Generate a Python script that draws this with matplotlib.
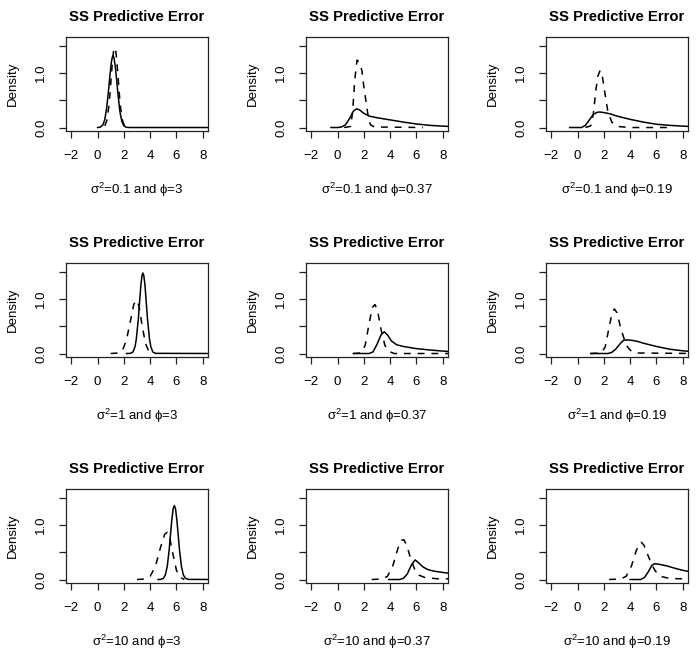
import matplotlib
matplotlib.use("Agg")
import matplotlib.pyplot as plt

plt.rcParams['font.family'] = ['Liberation Sans', 'DejaVu Sans']
plt.rcParams['mathtext.fontset'] = 'custom'
plt.rcParams['mathtext.rm'] = 'Liberation Sans'
plt.rcParams['mathtext.it'] = 'Liberation Sans'

# x labels of the 9 panels (row by row)
labels = [r'$\mathregular{\sigma^2}$=0.1 and $\phi$=3',
          r'$\mathregular{\sigma^2}$=0.1 and $\phi$=0.37',
          r'$\mathregular{\sigma^2}$=0.1 and $\phi$=0.19',
          r'$\mathregular{\sigma^2}$=1 and $\phi$=3',
          r'$\mathregular{\sigma^2}$=1 and $\phi$=0.37',
          r'$\mathregular{\sigma^2}$=1 and $\phi$=0.19',
          r'$\mathregular{\sigma^2}$=10 and $\phi$=3',
          r'$\mathregular{\sigma^2}$=10 and $\phi$=0.37',
          r'$\mathregular{\sigma^2}$=10 and $\phi$=0.19']

# solid curves (x, density)
solid_x = [
    [0.0, 0.2, 0.4, 0.55, 0.7, 0.85, 0.95, 1.05, 1.12, 1.18, 1.25, 1.35, 1.45, 1.55, 1.7, 1.85, 2.0, 2.2, 2.5, 9],
    [-0.5, 0, 0.3, 0.6, 0.9, 1.2, 1.45, 1.7, 2.0, 2.4, 3.0, 4.0, 5.0, 6.0, 7.0, 8.0, 9],
    [-0.6, 0.3, 0.6, 0.9, 1.2, 1.5, 1.7, 2.0, 2.5, 3.0, 4.0, 5.0, 6.0, 7.0, 8.0, 9],
    [2.2, 2.5, 2.7, 2.85, 2.95, 3.1, 3.2, 3.3, 3.38, 3.45, 3.52, 3.6, 3.7, 3.8, 3.95, 4.05, 4.2, 4.4, 9],
    [1.2, 2.4, 2.7, 3.0, 3.3, 3.55, 3.8, 4.1, 4.5, 5.0, 6.0, 7.0, 8.0, 9],
    [1.0, 2.3, 2.6, 2.9, 3.2, 3.5, 3.8, 4.2, 4.6, 5.0, 6.0, 7.0, 8.0, 9],
    [4.6, 4.8, 5.0, 5.15, 5.3, 5.45, 5.55, 5.65, 5.75, 5.84, 5.93, 6.03, 6.13, 6.23, 6.38, 6.53, 6.7, 6.9, 9],
    [3.9, 4.7, 5.0, 5.3, 5.6, 5.9, 6.2, 6.5, 6.9, 7.3, 8.0, 9],
    [4.0, 4.8, 5.1, 5.4, 5.65, 5.85, 6.2, 6.8, 7.5, 8.0, 9],
]
solid_y = [
    [0, 0.006, 0.045, 0.146, 0.37, 0.72, 0.98, 1.2, 1.29, 1.32, 1.28, 1.12, 0.88, 0.62, 0.29, 0.11, 0.03, 0.003, 0, 0],
    [0, 0, 0.01, 0.05, 0.16, 0.3, 0.345, 0.32, 0.26, 0.21, 0.18, 0.14, 0.1, 0.065, 0.04, 0.025, 0.015],
    [0, 0, 0.04, 0.14, 0.24, 0.28, 0.285, 0.275, 0.25, 0.21, 0.15, 0.1, 0.06, 0.04, 0.025, 0.015],
    [0, 0.003, 0.03, 0.126, 0.27, 0.63, 0.96, 1.27, 1.43, 1.48, 1.43, 1.27, 0.96, 0.63, 0.27, 0.126, 0.03, 0.003, 0],
    [0, 0, 0.03, 0.17, 0.34, 0.4, 0.34, 0.23, 0.16, 0.13, 0.09, 0.065, 0.045, 0.03],
    [0, 0, 0.02, 0.08, 0.17, 0.245, 0.25, 0.24, 0.22, 0.19, 0.13, 0.08, 0.05, 0.03],
    [0, 0.002, 0.02, 0.08, 0.24, 0.55, 0.83, 1.1, 1.3, 1.36, 1.3, 1.1, 0.83, 0.55, 0.24, 0.08, 0.02, 0.002, 0],
    [0, 0, 0.02, 0.1, 0.26, 0.36, 0.3, 0.23, 0.18, 0.155, 0.13, 0.1],
    [0, 0, 0.04, 0.15, 0.26, 0.29, 0.28, 0.25, 0.2, 0.17, 0.12],
]

# dashed curves
dash_x = [
    [0.55, 0.7, 0.85, 0.95, 1.05, 1.15, 1.22, 1.3, 1.38, 1.45, 1.55, 1.65, 1.75, 1.9, 2.05],
    [0.5, 1.0, 1.15, 1.3, 1.48, 1.65, 1.85, 2.0, 2.15, 2.3, 2.5, 2.8, 6.5],
    [0.6, 1.0, 1.2, 1.4, 1.55, 1.72, 1.9, 2.1, 2.3, 2.6, 3.0, 4.0, 7.0],
    [1.0, 1.6, 1.9, 2.2, 2.5, 2.75, 2.95, 3.15, 3.4, 3.65, 3.9, 4.3],
    [1.2, 1.8, 2.1, 2.4, 2.65, 2.85, 3.05, 3.3, 3.6, 3.9, 4.3, 9],
    [1.0, 1.8, 2.1, 2.4, 2.6, 2.8, 3.0, 3.25, 3.5, 3.8, 4.1, 4.5, 9],
    [3.0, 3.6, 4.0, 4.4, 4.8, 5.1, 5.3, 5.5, 5.75, 6.0, 6.3, 6.6],
    [2.6, 3.4, 3.8, 4.2, 4.6, 4.85, 5.05, 5.3, 5.6, 5.9, 6.2, 6.6, 7.5, 9],
    [2.4, 3.3, 3.7, 4.1, 4.45, 4.7, 4.85, 5.05, 5.3, 5.6, 5.9, 6.3, 6.8, 7.5, 9],
]
dash_y = [
    [0.03, 0.125, 0.37, 0.63, 0.96, 1.26, 1.41, 1.47, 1.41, 1.26, 0.96, 0.63, 0.37, 0.125, 0.03],
    [0, 0.02, 0.3, 0.85, 1.24, 1.2, 1.05, 0.75, 0.5, 0.25, 0.05, 0.01, 0],
    [0, 0.03, 0.25, 0.7, 0.95, 1.05, 0.92, 0.6, 0.3, 0.1, 0.02, 0, 0],
    [0, 0.01, 0.06, 0.25, 0.6, 0.9, 0.98, 0.88, 0.5, 0.18, 0.04, 0],
    [0, 0.01, 0.15, 0.55, 0.85, 0.9, 0.78, 0.45, 0.15, 0.04, 0.0, 0],
    [0, 0.01, 0.12, 0.48, 0.72, 0.82, 0.75, 0.5, 0.3, 0.12, 0.04, 0.01, 0],
    [0, 0.01, 0.06, 0.24, 0.6, 0.83, 0.87, 0.75, 0.45, 0.17, 0.04, 0],
    [0, 0.01, 0.06, 0.25, 0.58, 0.72, 0.73, 0.6, 0.35, 0.17, 0.08, 0.04, 0.015, 0.01],
    [0, 0.01, 0.06, 0.25, 0.52, 0.66, 0.685, 0.63, 0.48, 0.3, 0.16, 0.06, 0.03, 0.015, 0.01],
]

xticks = [-2, 0, 2, 4, 6, 8]
yticks = [0, 0.5, 1.0, 1.5]
ytick_labels = ['0.0', '', '1.0', '']

W, H = 697, 655
fig = plt.figure(figsize=(W / 100, H / 100), dpi=100)

col_left = [66, 306, 546]
row_top = [37, 263, 489]
box_w, box_h = 142, 94

for i in range(9):
    r, c = divmod(i, 3)
    ax = fig.add_axes([col_left[c] / W, 1 - (row_top[r] + box_h) / H, box_w / W, box_h / H])
    ax.plot(solid_x[i], solid_y[i], color='black', lw=1.1)
    ax.plot(dash_x[i], dash_y[i], color='black', lw=1.1, ls=(0, (4.5, 4.5)))
    ax.set_xlim(-2.4, 8.4)
    ax.set_ylim(-0.064, 1.664)
    ax.set_xticks(xticks)
    ax.set_xticklabels([str(t).replace('-', '\u2212') for t in xticks])
    ax.set_yticks(yticks)
    ax.set_yticklabels(ytick_labels, rotation=90, va='center')
    ax.tick_params(direction='out', length=5, width=0.9, pad=8.5, labelsize=9.5, color='#222222')
    for s in ax.spines.values():
        s.set_linewidth(0.9)
        s.set_color('#222222')
    ax.set_title('SS Predictive Error', fontsize=10.7, fontweight='bold', pad=11.5)
    ax.set_xlabel(labels[i], fontsize=9.5, labelpad=14)
    ax.set_ylabel('Density', fontsize=9.5, labelpad=12)

fig.savefig('out.png', dpi=100)
